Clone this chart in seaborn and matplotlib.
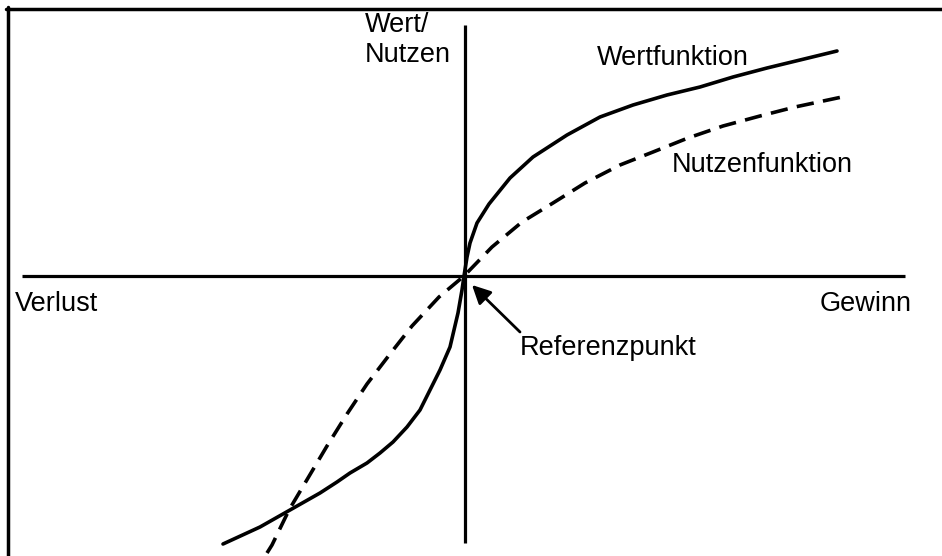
import numpy as np
import pandas as pd
import matplotlib
matplotlib.use("Agg")
import matplotlib.pyplot as plt
from matplotlib.lines import Line2D
import seaborn as sns

# Curve points (origin = reference point)
wert_x = [-2.41, -2.04, -1.74, -1.44, -1.27, -1.14, -0.97, -0.84, -0.71, -0.57,
          -0.44, -0.35, -0.24, -0.14, -0.06, -0.02, 0.0, 0.03, 0.06, 0.13,
          0.25, 0.46, 0.69, 1.03, 1.36, 1.69, 2.03, 2.36, 2.69, 3.03, 3.36, 3.73]
wert_y = [-2.68, -2.51, -2.34, -2.17, -2.06, -1.97, -1.87, -1.77, -1.66, -1.51,
          -1.34, -1.16, -0.94, -0.71, -0.37, -0.14, 0.0, 0.19, 0.33, 0.53,
          0.72, 0.98, 1.19, 1.41, 1.59, 1.71, 1.81, 1.89, 1.99, 2.08, 2.16, 2.25]

nutzen_x = [-1.97, -1.92, -1.75, -1.56, -1.37, -1.17, -0.97, -0.74, -0.52, -0.25,
            0.0, 0.28, 0.58, 0.89, 1.21, 1.56, 1.89, 2.24, 2.59, 2.96, 3.31, 3.78]
nutzen_y = [-2.77, -2.69, -2.34, -2.02, -1.70, -1.38, -1.08, -0.78, -0.50, -0.21,
            0.0, 0.29, 0.54, 0.73, 0.93, 1.11, 1.24, 1.38, 1.50, 1.60, 1.69, 1.79]

wert_df = pd.DataFrame({"x": wert_x, "y": wert_y})
nutzen_df = pd.DataFrame({"x": nutzen_x, "y": nutzen_y})

sns.set_theme(style="white")
plt.rcParams['font.family'] = ['Liberation Sans', 'DejaVu Sans']
plt.rcParams['text.color'] = 'black'

fig = plt.figure(figsize=(9.42, 5.56), dpi=100)
ax = fig.add_axes([0, 0, 1, 1])
ax.set_xlim(-4.64, 4.78)
ax.set_ylim(-2.80, 2.76)
ax.axis("off")

# axes of the diagram
ax.plot([-4.42, 4.41], [0, 0], color="black", lw=2.3, solid_capstyle="butt")
ax.plot([0.01, 0.01], [-2.67, 2.51], color="black", lw=2.3, solid_capstyle="butt")

sns.lineplot(data=wert_df, x="x", y="y", ax=ax, color="black", lw=2.6,
             estimator=None, sort=False)
sns.lineplot(data=nutzen_df, x="x", y="y", ax=ax, color="black", lw=2.6,
             estimator=None, sort=False, linestyle=(0, (4.8, 2.6)))

fs = 19.5
ax.text(-0.99, 2.44, "Wert/", fontsize=fs, va="baseline", ha="left", color="black")
ax.text(-0.99, 2.14, "Nutzen", fontsize=fs, va="baseline", ha="left", color="black")
ax.text(1.33, 2.11, "Wertfunktion", fontsize=fs, va="baseline", ha="left", color="black")
ax.text(2.08, 1.04, "Nutzenfunktion", fontsize=fs, va="baseline", ha="left", color="black")
ax.text(-4.49, -0.35, "Verlust", fontsize=fs, va="baseline", ha="left", color="black")
ax.text(3.56, -0.35, "Gewinn", fontsize=fs, va="baseline", ha="left", color="black")
ax.text(0.56, -0.79, "Referenzpunkt", fontsize=fs, va="baseline", ha="left", color="black")

ax.annotate("", xy=(0.08, -0.09), xytext=(0.56, -0.56),
            arrowprops=dict(arrowstyle="-|>", color="black", lw=2,
                            mutation_scale=28, shrinkA=0, shrinkB=0))

# frame lines along top and left edge
fig.add_artist(Line2D([6 / 942, 1], [1 - 8.5 / 556, 1 - 8.5 / 556],
                      color="black", lw=2.5, transform=fig.transFigure))
fig.add_artist(Line2D([7.5 / 942, 7.5 / 942], [0, 1 - 7 / 556],
                      color="black", lw=2.5, transform=fig.transFigure))

fig.savefig("out.png", dpi=100, facecolor="white")
